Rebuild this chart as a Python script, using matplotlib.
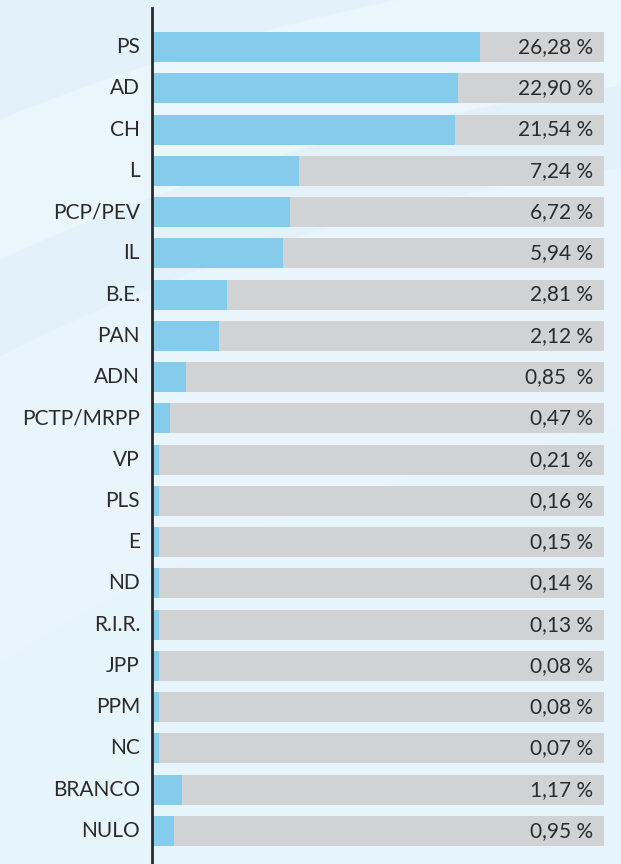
import numpy as np
import matplotlib
matplotlib.use("Agg")
from matplotlib import pyplot as plt
from matplotlib.patches import Ellipse

# Party names, top to bottom
parties = ["PS", "AD", "CH", "L", "PCP/PEV", "IL", "B.E.", "PAN", "ADN",
           "PCTP/MRPP", "VP", "PLS", "E", "ND", "R.I.R.", "JPP", "PPM", "NC",
           "BRANCO", "NULO"]

# Percentages as printed
votes = [26.28, 22.90, 21.54, 7.24, 6.72, 5.94, 2.81, 2.12, 0.85,
         0.47, 0.21, 0.16, 0.15, 0.14, 0.13, 0.08, 0.08, 0.07,
         1.17, 0.95]

# Printed labels (the ADN one has an extra space in the original)
vote_labels = ["26,28 %", "22,90 %", "21,54 %", "7,24 %", "6,72 %", "5,94 %",
               "2,81 %", "2,12 %", "0,85  %", "0,47 %", "0,21 %", "0,16 %",
               "0,15 %", "0,14 %", "0,13 %", "0,08 %", "0,08 %", "0,07 %",
               "1,17 %", "0,95 %"]

# Blue bar lengths as drawn, in % of the grey track (graphic is not to scale)
bar_lengths = [72.5, 67.6, 67.0, 32.4, 30.4, 28.8, 16.4, 14.6, 7.3,
               3.8, 1.3, 1.3, 1.3, 1.3, 1.3, 1.3, 1.3, 1.3,
               6.4, 4.7]

W, H = 621, 864
bgColor = "#e3f2fa"
blue = "#84cbec"
grey = "#d1d2d4"
textColor = "#2b2b2b"

fig = plt.figure(figsize=(W / 100, H / 100), dpi=100)
fig.patch.set_facecolor(bgColor)

# Background swooshes
bg = fig.add_axes([0, 0, 1, 1])
bg.set_xlim(0, W)
bg.set_ylim(H, 0)
bg.axis("off")
for cx, cy, r, col in [(900, 1250, 1300, "#e9f6fc"),
                       (900, 1250, 1180, "#e3f2fa"),
                       (900, 1250, 1100, "#e8f5fc"),
                       (950, 1400, 1000, "#e6f4fb")]:
    bg.add_patch(Ellipse((cx, cy), 2 * r * 1.4, 2 * r, color=col, zorder=0))

# Main axes
left, right = 153, 604
top, bottom = 8, 864
ax = fig.add_axes([left / W, 1 - bottom / H, (right - left) / W, (bottom - top) / H])
ax.set_facecolor("none")

spacing = 41.26
y = np.arange(len(parties))
ax.set_xlim(0, 100)
ax.set_ylim(19 + (bottom - 831) / spacing, -(47 - top) / spacing)

barH = 30 / spacing
ax.barh(y, [100] * len(parties), height=barH, color=grey, zorder=1)
ax.barh(y, bar_lengths, height=barH, color=blue, zorder=2)

for i in range(len(parties)):
    ax.text(-13 / 4.51, y[i], parties[i], ha="right", va="center",
            fontsize=15, color=textColor, family="Lato")
    ax.text(100 - 11 / 4.51, y[i], vote_labels[i], ha="right", va="center",
            fontsize=15, color=textColor, family="Lato", zorder=3)

for s in ["top", "right", "bottom"]:
    ax.spines[s].set_visible(False)
ax.spines["left"].set_linewidth(2)
ax.spines["left"].set_color("#2a2a2a")
ax.spines["left"].set_position(("data", -0.3))
ax.set_xticks([])
ax.set_yticks([])

fig.savefig("out.png", dpi=100, facecolor=fig.get_facecolor())
